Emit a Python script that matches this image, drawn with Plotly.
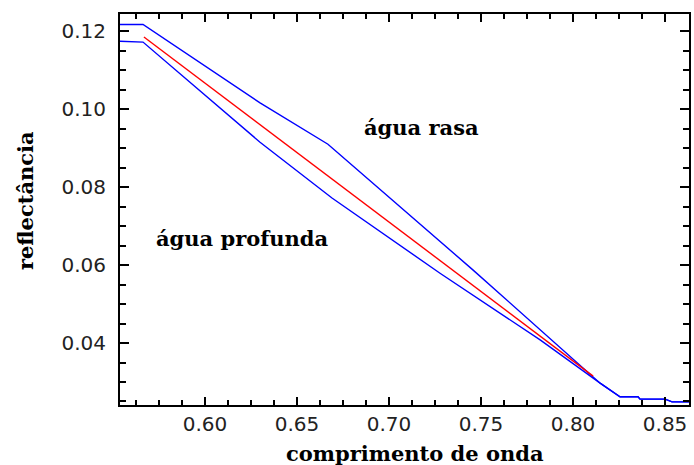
import plotly.graph_objects as go

# wavelength (µm) and reflectance
upper_x = [0.5538, 0.5663, 0.6299, 0.6668, 0.7457, 0.8147, 0.8255, 0.8353, 0.8364, 0.8500, 0.8538, 0.8636]
upper_y = [0.1217, 0.1217, 0.1016, 0.0910, 0.0587, 0.0297, 0.0262, 0.0262, 0.0256, 0.0256, 0.0249, 0.0249]

lower_x = [0.5538, 0.5663, 0.6299, 0.6690, 0.7277, 0.7821, 0.8147, 0.8255, 0.8353, 0.8364, 0.8500, 0.8538, 0.8636]
lower_y = [0.1174, 0.1172, 0.0915, 0.0772, 0.0579, 0.0408, 0.0297, 0.0262, 0.0262, 0.0256, 0.0256, 0.0249, 0.0249]

mid_x = [0.5668, 0.8109]
mid_y = [0.1185, 0.0315]

label_text = ["água rasa", "água profunda"]
label_x = [0.7179, 0.6201]
label_y = [0.0954, 0.0669]

x_title = "comprimento de onda"
y_title = "reflectância"

x_tickvals = [0.60, 0.65, 0.70, 0.75, 0.80, 0.85]
x_ticktext = ["0.60", "0.65", "0.70", "0.75", "0.80", "0.85"]
y_tickvals = [0.04, 0.06, 0.08, 0.10, 0.12]
y_ticktext = ["0.04", "0.06", "0.08", "0.10", "0.12"]

fig = go.Figure()
fig.add_trace(go.Scatter(x=upper_x, y=upper_y, mode="lines",
                         line=dict(color="#0000ff", width=1.4), showlegend=False))
fig.add_trace(go.Scatter(x=lower_x, y=lower_y, mode="lines",
                         line=dict(color="#0000ff", width=1.4), showlegend=False))
fig.add_trace(go.Scatter(x=mid_x, y=mid_y, mode="lines",
                         line=dict(color="#ff0000", width=1.4), showlegend=False))

serif = dict(family="DejaVu Serif", size=21, color="black", weight="bold")

for t, xx, yy in zip(label_text, label_x, label_y):
    fig.add_annotation(x=xx, y=yy, text=t, showarrow=False, xref="x", yref="y", font=serif)

fig.add_annotation(x=0.518, y=-0.123, xref="paper", yref="paper", text=x_title,
                   showarrow=False, xanchor="center", yanchor="middle", font=serif)
fig.add_annotation(x=-0.167, y=0.524, xref="paper", yref="paper", text=y_title,
                   showarrow=False, xanchor="center", yanchor="middle", textangle=-90, font=serif)

tickfont = dict(family="DejaVu Sans", size=20, color="#222222")

fig.update_xaxes(range=[0.5538, 0.8630], tickvals=x_tickvals, ticktext=x_ticktext,
                 ticks="inside", ticklen=8, tickwidth=1.5, tickcolor="black",
                 minor=dict(dtick=0.0125, tick0=0.6, ticks="inside", ticklen=5, tickwidth=1.5, tickcolor="black"),
                 showline=True, linecolor="black", linewidth=2, mirror="ticks",
                 showgrid=False, zeroline=False, tickfont=tickfont, ticklabelstandoff=0,
                 automargin=False)
fig.update_yaxes(range=[0.0241, 0.1244], tickvals=y_tickvals, ticktext=y_ticktext,
                 ticks="inside", ticklen=9, tickwidth=1.5, tickcolor="black",
                 minor=dict(dtick=0.005, tick0=0.0, ticks="inside", ticklen=6, tickwidth=1.5, tickcolor="black"),
                 showline=True, linecolor="black", linewidth=2, mirror="ticks",
                 showgrid=False, zeroline=False, tickfont=tickfont, ticklabelstandoff=8,
                 automargin=False)

fig.update_layout(width=694, height=465, margin=dict(l=120, r=5, t=14, b=60),
                  plot_bgcolor="white", paper_bgcolor="white")

fig.write_html("out.html", config={"displayModeBar": False},
               post_script="document.body.style.margin='0';document.body.style.overflow='hidden';")
